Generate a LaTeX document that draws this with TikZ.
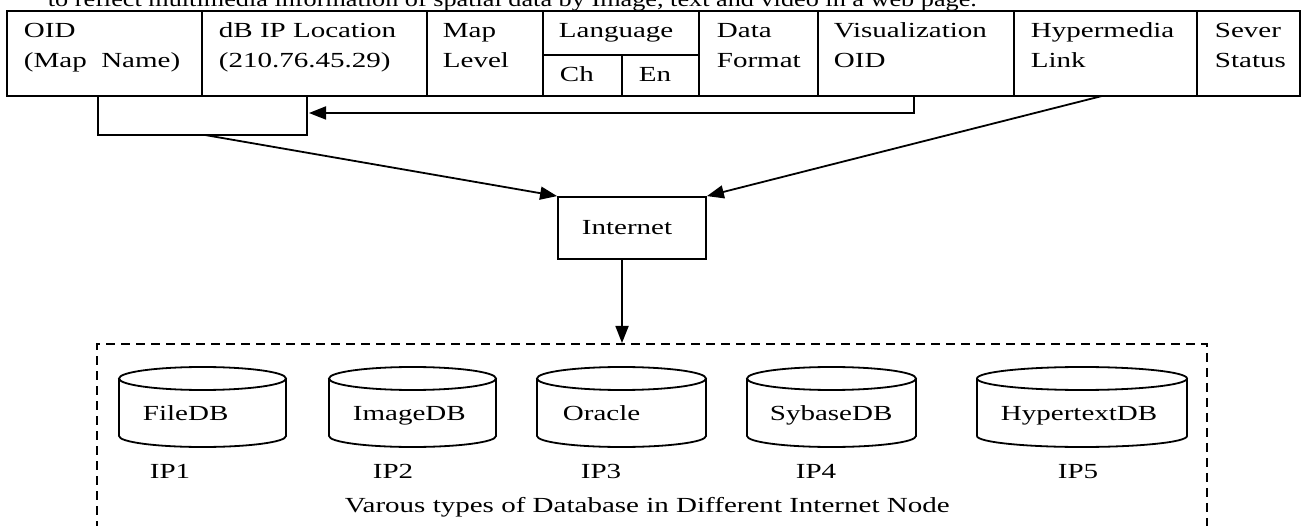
\documentclass[tikz,border=0pt]{standalone}
\usepackage{fontspec}
\setmainfont{Liberation Serif}[FakeStretch=1.35]
\usetikzlibrary{arrows.meta}
\newcommand{\dbcyl}[5]{% name, left, right, text, textx
  \draw (#2,378.5) -- (#2,436) arc[start angle=180, end angle=0, x radius={(#3-#2)/2}, y radius=11] -- (#3,378.5);
  \draw ({(#2+#3)/2},378.5) ellipse[x radius={(#3-#2)/2}, y radius=11.5];
  \node[lbl] (#1) at (#5,421) {#4};
}
\begin{document}
\begin{tikzpicture}[x=1pt,y=-1pt, line width=1.8pt,
  every node/.style={font=\fontsize{21.5}{26}\selectfont, inner sep=0pt},
  lbl/.style={anchor=base west},
  arr/.style={-{Triangle[length=17pt,width=13pt]}},
  dbox/.style={dash pattern=on 9pt off 6pt}]
\useasboundingbox (0,0) rectangle (1302,526);
\clip (0,0) rectangle (1302,526);
% clipped sentence above
\node[lbl] (sent) at (47,7) {\scalebox{0.904}[1]{to reflect multimedia information of spatial data by Image, text and video in a web page.}};
% table
\fill[white] (7,11) rectangle (1300,96);
\draw (7,11) rectangle (1300,96);
\foreach \x in {202,427,543,699,818,1014,1197} \draw (\x,11) -- (\x,96);
\draw (543,55) -- (699,55);
\draw (622,55) -- (622,96);
\node[lbl] (oid1) at (23,38) {OID};
\node[lbl] (oid2) at (23,68) {(Map\ \ Name)};
\node[lbl] (ip1t) at (218,38) {dB IP Location};
\node[lbl] (ip2t) at (218,68) {(210.76.45.29)};
\node[lbl] (ml1) at (442,38) {Map};
\node[lbl] (ml2) at (442,68) {Level};
\node[lbl] (lang) at (558,38) {Language};
\node[lbl] (ch) at (559,82) {Ch};
\node[lbl] (en) at (638,82) {En};
\node[lbl] (df1) at (716,38) {Data};
\node[lbl] (df2) at (716,68) {Format};
\node[lbl] (vo1) at (833,38) {Visualization};
\node[lbl] (vo2) at (833,68) {OID};
\node[lbl] (hl1) at (1030,38) {Hypermedia};
\node[lbl] (hl2) at (1030,68) {Link};
\node[lbl] (ss1) at (1214,38) {Sever};
\node[lbl] (ss2) at (1214,68) {Status};
% connector coordinates
\coordinate (brL) at (98,96);
\coordinate (brR) at (307,96);
\coordinate (brout) at (205,135);
\coordinate (visout) at (914,96);
\coordinate (brin) at (309,113);
\coordinate (hlout) at (1102,96);
% bracket
\draw (brL) -- (98,135) -- (307,135) -- (brR);
\draw[arr] (visout) -- (914,113) -- (brin);
% internet
\node[draw, minimum width=148pt, minimum height=62pt] (inet) at (632,228) {};
\node[lbl] (inettext) at (581,235) {Internet};
\draw[arr] (brout) -- (inet.north west);
\draw[arr] (hlout) -- (inet.north east);
\coordinate (inetout) at (622,259);
\coordinate (dbin) at (622,343);
\draw[arr] (inetout) -- (dbin);
% dashed box
\draw[dbox] (97,560) -- (97,344) -- (1207,344) -- (1207,560);
% databases
\dbcyl{fdb}{119}{286}{FileDB}{142}
\dbcyl{idb}{329}{496}{ImageDB}{352}
\dbcyl{odb}{537}{706}{Oracle}{562}
\dbcyl{sdb}{747}{916}{SybaseDB}{769}
\dbcyl{hdb}{977}{1187}{HypertextDB}{1000}
\node[lbl] (p1) at (149,479) {IP1};
\node[lbl] (p2) at (372,479) {IP2};
\node[lbl] (p3) at (580,479) {IP3};
\node[lbl] (p4) at (795,479) {IP4};
\node[lbl] (p5) at (1057,479) {IP5};
\node[anchor=base west] (cap) at (344,513) {Varous types of Database in Different Internet Node};
\end{tikzpicture}
\end{document}
